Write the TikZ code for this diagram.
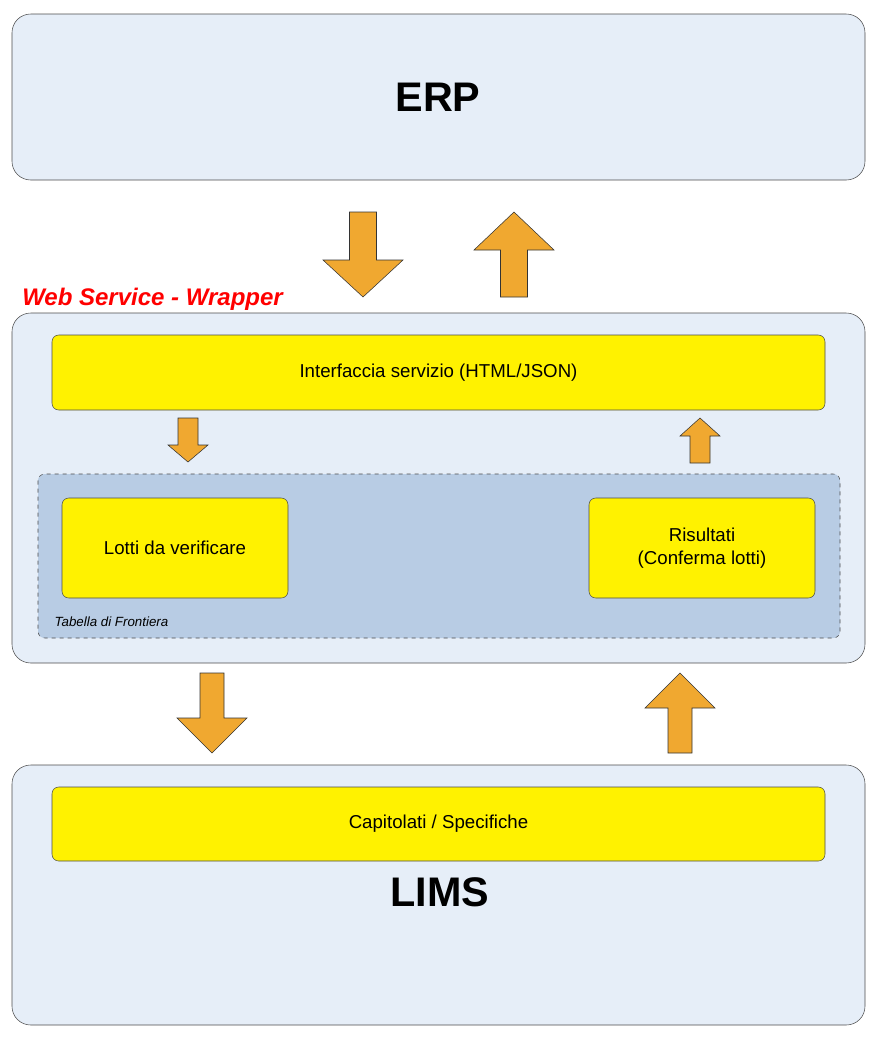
\documentclass[tikz,border=0pt]{standalone}
\usepackage{fontspec}
\setmainfont{Liberation Sans}
\definecolor{panel}{HTML}{E6EEF8}
\definecolor{frontier}{HTML}{B8CCE4}
\definecolor{arrowor}{HTML}{F0A830}
\tikzset{
  layer/.style={draw=black!70,fill=panel,rounded corners=14pt},
  module/.style={draw=black!70,fill=yellow,rounded corners=5pt,align=center,font=\fontsize{14}{17}\selectfont},
  flow/.style={draw=black!80,fill=arrowor,line join=miter}
}
% block arrow: centre x, tail y, tip y, half width, half shaft, head y
\newcommand{\blockarrow}[6]{%
  \draw[flow] (#1-#5,#2)--(#1+#5,#2)--(#1+#5,#6)--(#1+#4,#6)--(#1,#3)--(#1-#4,#6)--(#1-#5,#6)--cycle;}
\begin{document}
\begin{tikzpicture}[x=0.75pt,y=-0.75pt]
\useasboundingbox (0,0) rectangle (881,1040);
%\draw (0,0) rectangle (881,1040);
\draw[layer] (12,14) rectangle (865,180);
\node[font=\fontsize{31}{36}\selectfont\bfseries] (erp) at (438,97) {ERP};

\draw[layer] (12,313) rectangle (865,663);
\node[anchor=base west,text=red,font=\fontsize{18}{22}\selectfont\bfseries\itshape,inner sep=0pt] (ws) at (22,305) {Web Service - Wrapper};
\node[module,minimum width=773\pgflinewidth] (intf) at (438.5,372.5) {};
\draw[module] (52,335) rectangle (825,410);
\node[font=\fontsize{14}{17}\selectfont] (intftxt) at (438.5,372.5) {Interfaccia servizio (HTML/JSON)};
\draw[draw=black!70,fill=frontier,dashed,rounded corners=5pt] (38,474) rectangle (840,638);
\node[anchor=west,font=\fontsize{10}{12}\selectfont\itshape] (tab) at (50,622) {Tabella di Frontiera};
\draw[module] (62,498) rectangle (288,598);
\node[font=\fontsize{14}{17}\selectfont] (lotti) at (175,548) {Lotti da verificare};
\draw[module] (589,498) rectangle (815,598);
\node[align=center,font=\fontsize{14}{17}\selectfont] (ris) at (702,548) {Risultati\\(Conferma lotti)};

\draw[layer] (12,765) rectangle (865,1025);
\draw[module] (52,787) rectangle (825,861);
\node[font=\fontsize{14}{17}\selectfont] (cap) at (438.5,824) {Capitolati / Specifiche};
\node[font=\fontsize{31}{36}\selectfont\bfseries] (lims) at (440,892) {LIMS};

\blockarrow{363}{212}{297}{40}{13.5}{260}
\blockarrow{514}{297}{212}{40}{13.5}{250}
\blockarrow{188}{418}{462}{20}{10}{445}
\blockarrow{700}{463}{418}{20}{10}{436}
\blockarrow{212}{673}{753}{35}{12}{718}
\blockarrow{680}{753}{673}{35}{12}{708}
\end{tikzpicture}
\end{document}
